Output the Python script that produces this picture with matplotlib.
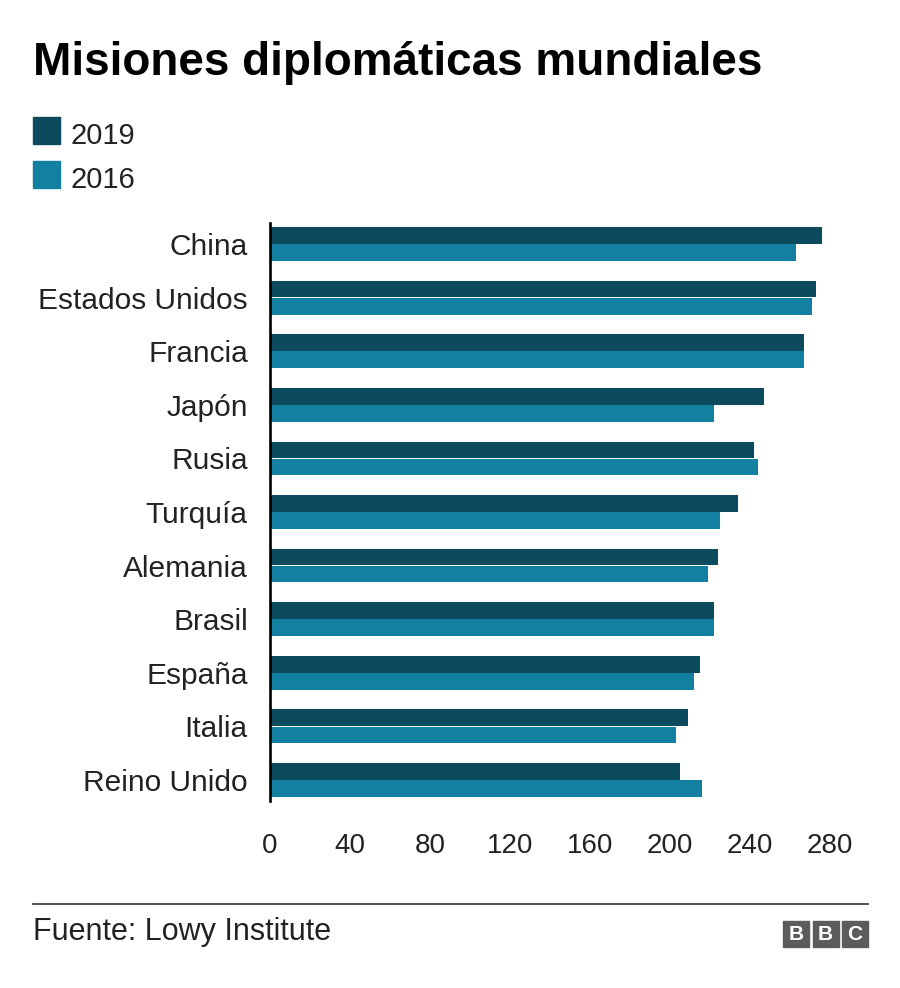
import matplotlib
matplotlib.use("Agg")
import numpy as np
import matplotlib.pyplot as plt
from matplotlib.patches import Rectangle
from matplotlib.lines import Line2D

## data
countries = ["China", "Estados Unidos", "Francia", "Japón", "Rusia", "Turquía",
             "Alemania", "Brasil", "España", "Italia", "Reino Unido"]
m2019 = [276, 273, 267, 247, 242, 234, 224, 222, 215, 209, 205]
m2016 = [263, 271, 267, 222, 244, 225, 219, 222, 212, 203, 216]
xticks = [0, 40, 80, 120, 160, 200, 240, 280]
years = ["2019", "2016"]

c_dark = "#0c4a5e"
c_light = "#1380a1"
txt = "#222222"

plt.rcParams["font.family"] = ["Liberation Sans", "DejaVu Sans"]

W, H = 900, 988
fig = plt.figure(figsize=(W / 100, H / 100), dpi=100)

def fx(px):
    return px / W

def fy(py):
    return 1 - py / H

ax = fig.add_axes([fx(270), fy(801.4), fx(590), (801.4 - 222.6) / H])

y = np.arange(len(countries))
ax.barh(y - 0.16, m2019, height=0.31, color=c_dark, linewidth=0)
ax.barh(y + 0.16, m2016, height=0.31, color=c_light, linewidth=0)

ax.set_xlim(0, 295)
ax.set_ylim(len(countries) - 0.6, -0.4)
ax.set_yticks(y)
ax.set_yticklabels(countries)
ax.set_xticks(xticks)
ax.set_xticklabels([str(v) for v in xticks])
ax.tick_params(axis="y", length=0, pad=16, labelsize=21.5, labelcolor=txt)
ax.tick_params(axis="x", length=0, pad=23, labelsize=20, labelcolor=txt)
for s in ["top", "right", "bottom"]:
    ax.spines[s].set_visible(False)
ax.spines["left"].set_color("black")
ax.spines["left"].set_linewidth(1.9)

# title
fig.text(fx(33), fy(75), "Misiones diplomáticas mundiales", fontsize=33,
         fontweight="bold", color="black", va="baseline", ha="left")

# legend
for i, (lab, col) in enumerate(zip(years, [c_dark, c_light])):
    top = 117 + i * 44.5
    fig.patches.append(Rectangle((fx(33), fy(top + 27)), fx(27), 27 / H,
                                 transform=fig.transFigure, color=col))
    fig.text(fx(71), fy(top + 27), lab, fontsize=21, color=txt,
             va="baseline", ha="left")

# footer
fig.lines.append(Line2D([fx(33), fx(868)], [fy(904), fy(904)],
                        transform=fig.transFigure, color="#333333", linewidth=1.2))
fig.text(fx(33), fy(940), "Fuente: Lowy Institute", fontsize=22, color=txt,
         va="baseline", ha="left")

for i, ch in enumerate("BBC"):
    x0 = 783 + i * 29.5
    fig.patches.append(Rectangle((fx(x0), fy(947)), fx(26), 26 / H,
                                 transform=fig.transFigure, color="#5c5c5c"))
    fig.text(fx(x0 + 13), fy(934), ch, fontsize=15, fontweight="bold",
             color="white", ha="center", va="center")

fig.savefig("out.png", dpi=100)
